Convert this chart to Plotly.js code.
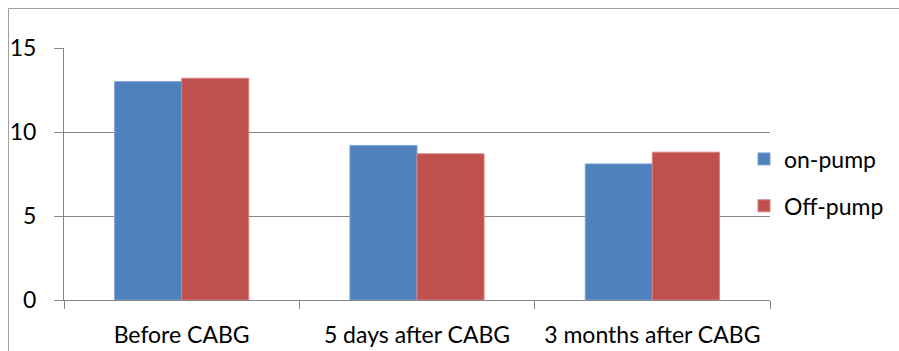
<!DOCTYPE html>
<html><head><meta charset="utf-8">
<script src="https://cdn.plot.ly/plotly-3.0.1.min.js"></script>
<style>html,body{margin:0;padding:0;background:#fff;}#chart{width:899px;height:351px;}</style>
</head><body><div id="chart"></div>
<script>
const categories = ["Before CABG", "5 days after CABG", "3 months after CABG"];
const onPump = [13.0, 9.2, 8.1];
const offPump = [13.2, 8.7, 8.8];
const seriesNames = ["on-pump", "Off-pump"];

const W = 899, H = 351, L = 64, R = 129, T = 48, B = 51;
const pw = W - L - R, ph = H - T - B;
const grid = "#868686";
const font = {family: "Lato, 'Open Sans', sans-serif", size: 23, color: "#000"};

const traces = [
  {type: "bar", name: seriesNames[0], x: categories, y: onPump, legendgroup: "a",
   marker: {color: "#4F81BD", line: {color: "#7EA1D3", width: 1}}},
  {type: "bar", name: seriesNames[1], x: categories, y: offPump, legendgroup: "b",
   marker: {color: "#C0504D", line: {color: "#D8817F", width: 1}}}
];

const layout = {
  width: W, height: H,
  margin: {l: L, r: R, t: T, b: B, autoexpand: false},
  paper_bgcolor: "#fff", plot_bgcolor: "#fff",
  font: font,
  barmode: "group", bargap: 0.43, bargroupgap: 0,
  showlegend: true,
  legend: {x: 1 - 26 / pw, xanchor: "left", y: 0.645, yanchor: "top",
           traceorder: "grouped", tracegroupgap: 14, font: font,
           bgcolor: "rgba(0,0,0,0)"},
  xaxis: {type: "category", tickson: "boundaries", ticks: "outside", ticklen: 8,
          tickcolor: grid, tickwidth: 1, showline: true, linecolor: grid, linewidth: 1,
          showgrid: false, ticklabelstandoff: 14, tickfont: font},
  yaxis: {range: [0, 15], tickvals: [0, 5, 10, 15], ticks: "outside", ticklen: 9,
          tickcolor: grid, tickwidth: 1, showline: true, linecolor: grid, linewidth: 1,
          showgrid: true, gridcolor: grid, gridwidth: 1, zeroline: false,
          ticklabelstandoff: 13, tickfont: font},
  shapes: [{type: "rect", xref: "paper", yref: "paper",
            x0: (8.5 - L) / pw, x1: (W + 5 - L) / pw,
            y0: -(H + 5 - T - ph) / ph, y1: (H - B - 8.5) / ph,
            line: {color: "#A0A0A0", width: 1}, fillcolor: "rgba(0,0,0,0)", layer: "below"}]
};

Plotly.newPlot("chart", traces, layout, {displayModeBar: false, staticPlot: true});
</script></body></html>
